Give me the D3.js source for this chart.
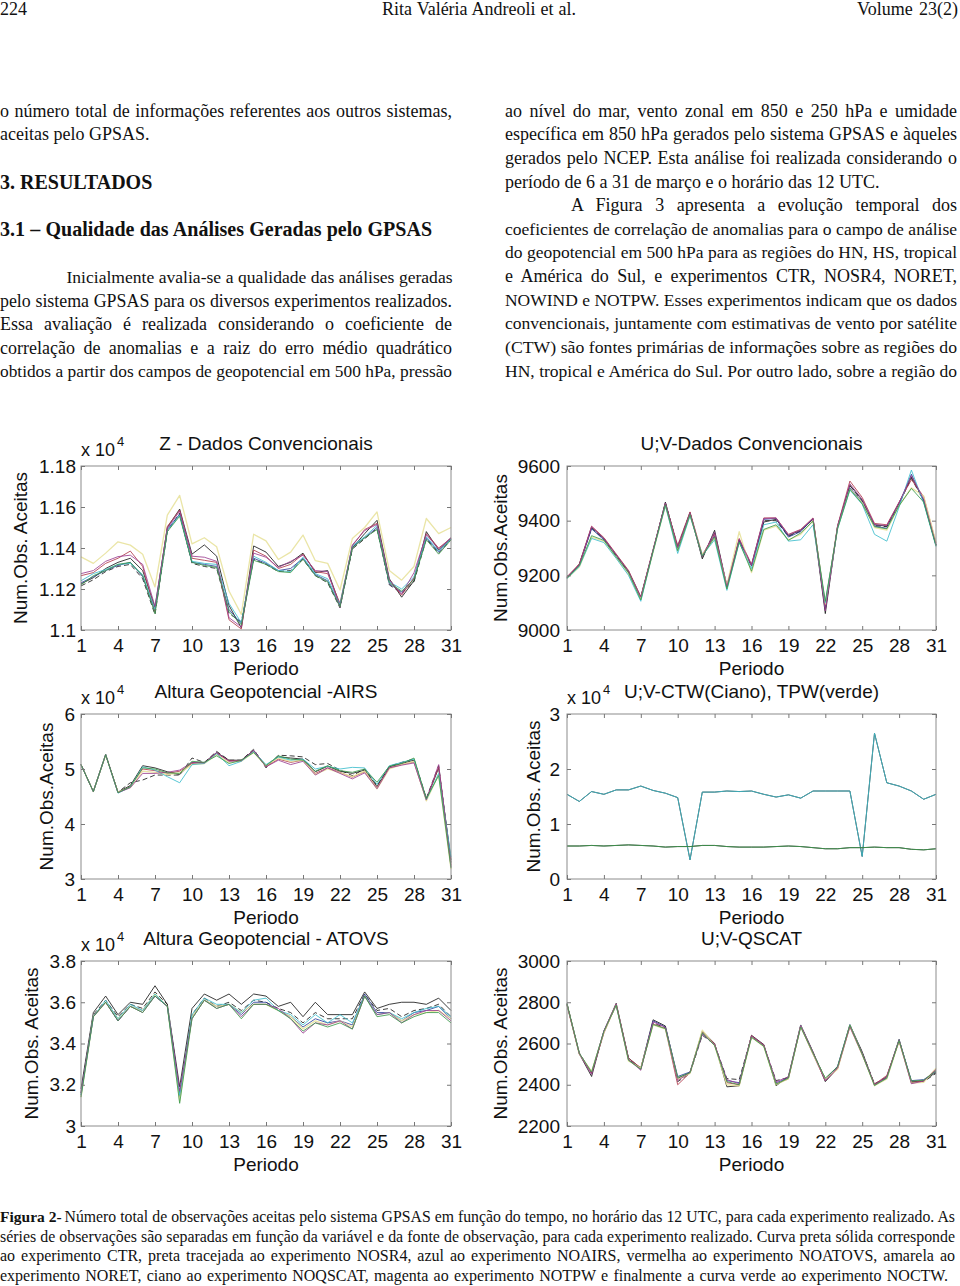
<!DOCTYPE html>
<html>
<head>
<meta charset="utf-8">
<script src="https://cdn.jsdelivr.net/npm/d3@7"></script>
<style>
  body { margin: 0; background: #fff; }
  svg { display: block; }
</style>
</head>
<body>
<div id="page"></div>
<script>
// days of the period (x axis)
var days = [1,2,3,4,5,6,7,8,9,10,11,12,13,14,15,16,17,18,19,20,21,22,23,24,25,26,27,28,29,30,31];
var xTicks = [1,4,7,10,13,16,19,22,25,28,31];

// Z - Dados Convencionais (x 10^4)
var zConvTicks = [1.1, 1.12, 1.14, 1.16, 1.18];
var zConvCTR    = [1.1225,1.1255,1.1300,1.1330,1.1350,1.1290,1.1110,1.1500,1.1590,1.1370,1.1415,1.1360,1.1120,1.1010,1.1410,1.1380,1.1310,1.1330,1.1375,1.1280,1.1290,1.1120,1.1400,1.1470,1.1535,1.1250,1.1160,1.1240,1.1480,1.1390,1.1450];
var zConvNOSR4  = [1.1215,1.1245,1.1285,1.1310,1.1320,1.1250,1.1075,1.1480,1.1570,1.1325,1.1310,1.1300,1.1080,1.1040,1.1345,1.1320,1.1285,1.1290,1.1345,1.1265,1.1230,1.1108,1.1395,1.1445,1.1495,1.1220,1.1180,1.1235,1.1445,1.1375,1.1440];
var zConvNOAIRS = [1.1230,1.1260,1.1290,1.1315,1.1330,1.1260,1.1090,1.1490,1.1565,1.1330,1.1320,1.1310,1.1100,1.1030,1.1350,1.1325,1.1290,1.1300,1.1350,1.1270,1.1240,1.1115,1.1405,1.1450,1.1500,1.1225,1.1185,1.1250,1.1450,1.1380,1.1445];
var zConvNOATOVS= [1.1265,1.1280,1.1325,1.1350,1.1385,1.1310,1.1090,1.1505,1.1585,1.1350,1.1340,1.1330,1.1050,1.1005,1.1390,1.1360,1.1300,1.1320,1.1370,1.1285,1.1275,1.1130,1.1410,1.1490,1.1520,1.1240,1.1170,1.1255,1.1470,1.1400,1.1448];
var zConvNORET  = [1.1357,1.1325,1.1375,1.1430,1.1414,1.1370,1.1210,1.1560,1.1657,1.1420,1.1450,1.1406,1.1190,1.1076,1.1467,1.1435,1.1344,1.1380,1.1463,1.1338,1.1325,1.1195,1.1446,1.1500,1.1576,1.1290,1.1243,1.1310,1.1544,1.1470,1.1500];
var zConvNOQSCAT= [1.1240,1.1275,1.1295,1.1320,1.1325,1.1270,1.1100,1.1485,1.1560,1.1335,1.1325,1.1320,1.1130,1.1035,1.1360,1.1330,1.1290,1.1285,1.1355,1.1275,1.1250,1.1125,1.1410,1.1455,1.1510,1.1235,1.1200,1.1260,1.1455,1.1385,1.1445];
var zConvNOTPW  = [1.1275,1.1290,1.1335,1.1358,1.1365,1.1320,1.1115,1.1495,1.1580,1.1360,1.1355,1.1335,1.1060,1.1015,1.1375,1.1355,1.1305,1.1335,1.1365,1.1290,1.1285,1.1110,1.1415,1.1485,1.1515,1.1245,1.1175,1.1280,1.1465,1.1395,1.1450];
var zConvNOCTW  = [1.1220,1.1265,1.1290,1.1320,1.1330,1.1265,1.1080,1.1480,1.1555,1.1330,1.1315,1.1305,1.1090,1.1025,1.1340,1.1320,1.1285,1.1280,1.1345,1.1265,1.1235,1.1112,1.1400,1.1450,1.1490,1.1230,1.1190,1.1245,1.1440,1.1370,1.1440];

// U;V - Dados Convencionais
var uvConvTicks = [9000, 9200, 9400, 9600];
var uvConvCTR    = [9190,9240,9375,9335,9275,9215,9120,9290,9468,9300,9430,9260,9365,9160,9330,9235,9395,9405,9345,9365,9405,9060,9380,9530,9475,9385,9380,9465,9560,9475,9310];
var uvConvNOSR4  = [9190,9240,9372,9332,9272,9212,9118,9290,9465,9305,9428,9265,9355,9158,9328,9232,9400,9400,9342,9362,9405,9075,9378,9528,9472,9382,9378,9462,9555,9472,9310];
var uvConvNOAIRS = [9192,9238,9370,9330,9268,9208,9115,9292,9460,9295,9425,9270,9345,9155,9325,9238,9405,9408,9340,9360,9408,9085,9375,9520,9468,9380,9372,9458,9570,9470,9312];
var uvConvNOATOVS= [9195,9242,9380,9338,9278,9218,9122,9295,9462,9310,9432,9275,9350,9162,9335,9240,9410,9410,9350,9368,9410,9090,9382,9545,9485,9390,9385,9468,9550,9488,9318];
var uvConvNORET  = [9188,9230,9340,9325,9265,9205,9112,9285,9455,9290,9420,9275,9335,9165,9360,9210,9365,9380,9330,9350,9400,9095,9372,9515,9465,9375,9365,9455,9520,9490,9320];
var uvConvNOQSCAT= [9188,9232,9335,9320,9262,9200,9105,9288,9455,9280,9418,9272,9330,9145,9320,9225,9385,9395,9325,9330,9385,9100,9370,9512,9460,9350,9325,9450,9585,9465,9305];
var uvConvNOTPW  = [9192,9238,9378,9335,9275,9215,9120,9292,9465,9302,9428,9268,9358,9160,9332,9236,9408,9410,9348,9366,9408,9070,9380,9535,9478,9386,9382,9466,9565,9478,9312];
var uvConvNOCTW  = [9190,9235,9345,9328,9268,9210,9110,9288,9458,9290,9422,9270,9340,9150,9322,9215,9368,9385,9328,9355,9398,9105,9372,9515,9462,9378,9370,9455,9518,9468,9308];

// Altura Geopotencial - AIRS (x 10^4), no NOAIRS curve
var airsTicks = [3, 4, 5, 6];
var airsCTR    = [5.08,4.59,5.26,4.58,4.70,5.06,5.02,4.95,4.90,5.12,5.12,5.30,5.16,5.16,5.34,5.05,5.22,5.20,5.18,4.95,5.05,4.96,4.92,4.98,4.68,5.04,5.10,5.16,4.45,5.02,3.35];
var airsNOSR4  = [5.08,4.59,5.26,4.58,4.75,4.80,4.89,4.89,4.89,5.20,5.12,5.32,5.16,5.16,5.36,5.02,5.25,5.24,5.22,5.08,5.10,4.98,4.88,5.00,4.70,5.05,5.12,5.18,4.47,5.06,3.30];
var airsNOATOVS= [5.08,4.59,5.26,4.57,4.68,5.00,4.97,4.92,4.96,5.10,5.11,5.28,5.15,5.15,5.33,5.04,5.18,5.12,5.16,4.92,5.02,4.94,4.85,4.95,4.66,5.02,5.08,5.13,4.43,5.04,3.25];
var airsNORET  = [5.08,4.59,5.25,4.58,4.66,4.96,4.94,4.90,4.93,5.08,5.10,5.26,5.12,5.14,5.30,5.06,5.20,5.14,5.16,4.90,5.00,4.93,4.86,4.96,4.64,5.00,5.08,5.14,4.42,4.90,3.18];
var airsNOQSCAT= [5.08,4.59,5.26,4.56,4.67,5.04,4.98,4.86,4.75,5.08,5.10,5.28,5.06,5.14,5.32,5.08,5.22,5.16,5.18,5.00,5.05,5.00,5.03,5.02,4.72,5.06,5.12,5.18,4.44,4.92,3.40];
var airsNOTPW  = [5.08,4.59,5.26,4.57,4.66,4.92,4.92,4.94,4.98,5.12,5.11,5.30,5.14,5.15,5.34,5.04,5.16,5.08,5.14,4.89,5.02,4.92,4.82,4.93,4.64,5.02,5.07,5.11,4.44,5.08,3.22];
var airsNOCTW  = [5.08,4.59,5.26,4.57,4.68,5.02,5.00,4.93,4.92,5.14,5.12,5.24,5.10,5.16,5.30,5.06,5.24,5.18,5.16,4.96,5.06,4.97,4.94,5.00,4.76,5.05,5.10,5.20,4.46,4.88,3.20];

// U;V - CTW (ciano) and TPW (verde) (x 10^4)
var ctwTicks = [0, 1, 2, 3];
var ctwObs = [1.54,1.41,1.59,1.54,1.62,1.62,1.69,1.61,1.56,1.48,0.35,1.58,1.58,1.60,1.59,1.60,1.54,1.49,1.53,1.47,1.60,1.60,1.60,1.60,0.41,2.65,1.75,1.69,1.60,1.45,1.54];
var tpwObs = [0.60,0.60,0.61,0.60,0.61,0.62,0.61,0.60,0.58,0.59,0.59,0.61,0.61,0.59,0.58,0.58,0.58,0.59,0.60,0.59,0.57,0.55,0.55,0.57,0.57,0.58,0.57,0.57,0.54,0.53,0.55];

// Altura Geopotencial - ATOVS (x 10^4), no NOATOVS curve
var atovsTicks = [3, 3.2, 3.4, 3.6, 3.8];
var atovsCTR    = [3.18,3.55,3.63,3.54,3.60,3.59,3.68,3.59,3.19,3.57,3.64,3.61,3.64,3.59,3.64,3.63,3.58,3.60,3.53,3.60,3.54,3.54,3.54,3.65,3.57,3.59,3.60,3.60,3.59,3.62,3.56];
var atovsNOSR4  = [3.16,3.54,3.61,3.53,3.59,3.57,3.65,3.59,3.16,3.54,3.62,3.58,3.60,3.56,3.61,3.60,3.57,3.55,3.50,3.55,3.52,3.52,3.52,3.64,3.56,3.57,3.53,3.56,3.57,3.59,3.53];
var atovsNOAIRS = [3.15,3.53,3.60,3.51,3.58,3.56,3.63,3.58,3.14,3.53,3.61,3.58,3.59,3.54,3.60,3.60,3.56,3.53,3.48,3.52,3.50,3.51,3.49,3.64,3.55,3.55,3.51,3.55,3.56,3.58,3.52];
var atovsNORET  = [3.14,3.53,3.60,3.52,3.58,3.56,3.64,3.58,3.12,3.53,3.61,3.58,3.59,3.55,3.59,3.59,3.56,3.53,3.47,3.51,3.49,3.51,3.48,3.63,3.54,3.55,3.51,3.54,3.55,3.56,3.52];
var atovsNOQSCAT= [3.15,3.53,3.61,3.52,3.59,3.56,3.64,3.58,3.15,3.54,3.62,3.59,3.59,3.55,3.61,3.62,3.56,3.54,3.49,3.54,3.50,3.54,3.50,3.63,3.54,3.55,3.52,3.55,3.57,3.58,3.53];
var atovsNOTPW  = [3.16,3.53,3.60,3.51,3.58,3.55,3.63,3.58,3.17,3.52,3.61,3.57,3.59,3.53,3.59,3.59,3.57,3.52,3.45,3.50,3.49,3.51,3.47,3.63,3.54,3.55,3.50,3.54,3.56,3.56,3.51];
var atovsNOCTW  = [3.14,3.53,3.60,3.51,3.58,3.55,3.63,3.58,3.11,3.52,3.61,3.57,3.59,3.52,3.59,3.59,3.56,3.52,3.46,3.50,3.48,3.50,3.47,3.63,3.53,3.54,3.50,3.53,3.55,3.55,3.50];

// U;V - QSCAT, no NOQSCAT curve
var qscatTicks = [2200, 2400, 2600, 2800, 3000];
var qscatCTR    = [2790,2550,2440,2660,2795,2530,2480,2715,2685,2430,2460,2660,2600,2390,2395,2640,2595,2395,2440,2690,2560,2415,2480,2690,2560,2400,2440,2620,2410,2420,2460];
var qscatNOSR4  = [2795,2555,2455,2655,2790,2525,2475,2700,2675,2415,2455,2640,2595,2430,2425,2635,2590,2420,2435,2685,2555,2430,2485,2685,2555,2405,2435,2615,2415,2415,2455];
var qscatNOAIRS = [2790,2552,2460,2660,2785,2520,2478,2710,2680,2440,2462,2650,2592,2420,2410,2632,2588,2410,2432,2688,2552,2425,2490,2692,2550,2398,2430,2618,2420,2425,2465];
var qscatNOATOVS= [2785,2550,2458,2650,2790,2528,2482,2695,2672,2400,2458,2655,2598,2410,2400,2638,2592,2405,2428,2682,2548,2420,2478,2680,2545,2402,2445,2610,2412,2418,2470];
var qscatNORET  = [2790,2548,2465,2655,2788,2515,2480,2690,2670,2425,2455,2665,2590,2400,2395,2630,2585,2400,2430,2684,2550,2428,2475,2688,2548,2395,2428,2612,2408,2412,2480];
var qscatNOTPW  = [2788,2550,2450,2662,2792,2522,2470,2705,2678,2420,2460,2645,2595,2425,2405,2636,2592,2415,2438,2686,2558,2420,2482,2684,2552,2400,2438,2616,2405,2418,2475];
var qscatNOCTW  = [2792,2553,2462,2658,2786,2518,2476,2692,2672,2435,2458,2652,2590,2415,2400,2630,2586,2402,2432,2680,2553,2432,2488,2690,2548,2396,2432,2614,2418,2422,2468];

// line style per experiment
var expColor = {
  CTR: "#1c1c1c", NOSR4: "#1c1c1c", NOAIRS: "#2f3f9c", NOATOVS: "#b23c4e",
  NORET: "#e6e096", NOQSCAT: "#3dbdcd", NOTPW: "#9c3f92", NOCTW: "#3d9a4c"
};

var svg = d3.select("#page").append("svg")
  .attr("width", 960)
  .attr("height", 1286);

svg.append("rect").attr("width", 960).attr("height", 1286).attr("fill", "#fff");

var serif = "'Liberation Serif', 'Times New Roman', serif";
var sans = "'Liberation Sans', Arial, Helvetica, sans-serif";

// ---------- page text ----------
// shrink the font when a line is too long, then spread the words to fill the width
function fitText(x, y, str, width, size, bold) {
  var t = svg.append("text")
    .attr("x", x).attr("y", y)
    .attr("font-family", serif)
    .attr("font-size", size)
    .attr("font-weight", bold ? "bold" : "normal")
    .attr("fill", "#111")
    .text(str);
  if (width == null) return t;
  var natural = t.node().getComputedTextLength();
  if (natural > width) {
    t.attr("font-size", size * width / natural * 0.998);
    natural = t.node().getComputedTextLength();
  }
  var spaces = (str.match(/ /g) || []).length;
  if (spaces && width - natural > 0.5) {
    t.style("word-spacing", ((width - natural) / spaces) + "px");
  }
  return t;
}

// running header
fitText(0, 15, "224", 27, 18);
fitText(382, 15, "Rita Valéria Andreoli et al.", 194, 18);
fitText(857, 15, "Volume 23(2)", 101, 18);

var leftLines = [
  ["o número total de informações referentes aos outros sistemas,", 0, 116.5, 452],
  ["aceitas pelo GPSAS.", 0, 140, null],
  ["Inicialmente avalia-se a qualidade das análises geradas", 66.5, 283, 386],
  ["pelo sistema GPSAS para os diversos experimentos realizados.", 0, 306.5, 452],
  ["Essa avaliação é realizada considerando o coeficiente de", 0, 330, 452],
  ["correlação de anomalias e a raiz do erro médio quadrático", 0, 353.5, 452],
  ["obtidos a partir dos campos de geopotencial em 500 hPa, pressão", 0, 377, 452]
];
var rightLines = [
  ["ao nível do mar, vento zonal em 850 e 250 hPa e umidade", 505, 116.5, 452],
  ["específica em 850 hPa gerados pelo sistema GPSAS e àqueles", 505, 140, 452],
  ["gerados pelo NCEP. Esta análise foi realizada considerando o", 505, 164, 452],
  ["período de 6 a 31 de março e o horário das 12 UTC.", 505, 187.5, null],
  ["A Figura 3 apresenta a evolução temporal dos", 571, 211, 386],
  ["coeficientes de correlação de anomalias para o campo de análise", 505, 234.5, 452],
  ["do geopotencial em 500 hPa para as regiões do HN, HS, tropical", 505, 258, 452],
  ["e América do Sul, e experimentos CTR, NOSR4, NORET,", 505, 282, 452],
  ["NOWIND e NOTPW. Esses experimentos indicam que os dados", 505, 305.5, 452],
  ["convencionais, juntamente com estimativas de vento por satélite", 505, 329, 452],
  ["(CTW) são fontes primárias de informações sobre as regiões do", 505, 353, 452],
  ["HN, tropical e América do Sul. Por outro lado, sobre a região do", 505, 376.5, 452]
];
leftLines.concat(rightLines).forEach(function(l) {
  fitText(l[1], l[2], l[0], l[3], 18, false);
});

fitText(0, 189, "3. RESULTADOS", null, 20, true);
fitText(0, 235.5, "3.1 – Qualidade das Análises Geradas pelo GPSAS", 432, 20, true);

// caption
var capHead = fitText(0, 1222, "Figura 2-", null, 15.5, true);
var capX = capHead.node().getComputedTextLength() + 3;
fitText(capX, 1222, "Número total de observações aceitas pelo sistema GPSAS em função do tempo, no horário das 12 UTC, para cada experimento realizado. As", 955 - capX, 16);
fitText(0, 1241.5, "séries de observações são separadas em função da variável e da fonte de observação, para cada experimento realizado. Curva preta sólida corresponde", 955, 16);
fitText(0, 1261, "ao experimento CTR, preta tracejada ao experimento NOSR4, azul ao experimento NOAIRS, vermelha ao experimento NOATOVS, amarela ao", 955, 16);
fitText(0, 1280.5, "experimento NORET, ciano ao experimento NOQSCAT, magenta ao experimento NOTPW e finalmente a curva verde ao experimento NOCTW.", 948, 16);

// ---------- panels ----------
var colL = [81, 451], colR = [567, 936];
var rows = [[466, 630], [714, 879], [961, 1126]];

var panels = [
  { col: colL, row: rows[0], title: "Z - Dados Convencionais", ylabel: "Num.Obs. Aceitas", labelX: 27,
    exp: true, ticks: zConvTicks, pad: 5,
    series: [["CTR", zConvCTR], ["NOSR4", zConvNOSR4], ["NOAIRS", zConvNOAIRS], ["NOATOVS", zConvNOATOVS],
             ["NORET", zConvNORET], ["NOQSCAT", zConvNOQSCAT], ["NOTPW", zConvNOTPW], ["NOCTW", zConvNOCTW]] },
  { col: colR, row: rows[0], title: "U;V-Dados Convencionais", ylabel: "Num.Obs.Aceitas", labelX: 507,
    exp: false, ticks: uvConvTicks, pad: 7,
    series: [["CTR", uvConvCTR], ["NOSR4", uvConvNOSR4], ["NOAIRS", uvConvNOAIRS], ["NOATOVS", uvConvNOATOVS],
             ["NORET", uvConvNORET], ["NOQSCAT", uvConvNOQSCAT], ["NOTPW", uvConvNOTPW], ["NOCTW", uvConvNOCTW]] },
  { col: colL, row: rows[1], title: "Altura Geopotencial -AIRS", ylabel: "Num.Obs.Aceitas", labelX: 53,
    exp: true, ticks: airsTicks, pad: 6,
    series: [["CTR", airsCTR], ["NOSR4", airsNOSR4], ["NOATOVS", airsNOATOVS], ["NORET", airsNORET],
             ["NOQSCAT", airsNOQSCAT], ["NOTPW", airsNOTPW], ["NOCTW", airsNOCTW]] },
  { col: colR, row: rows[1], title: "U;V-CTW(Ciano), TPW(verde)", ylabel: "Num.Obs. Aceitas", labelX: 540,
    exp: true, ticks: ctwTicks, pad: 7,
    series: [["CTR", ctwObs], ["NOQSCAT", ctwObs], ["CTR", tpwObs], ["NOCTW", tpwObs]] },
  { col: colL, row: rows[2], title: "Altura Geopotencial - ATOVS", ylabel: "Num.Obs. Aceitas", labelX: 38,
    exp: true, ticks: atovsTicks, pad: 5,
    series: [["CTR", atovsCTR], ["NOSR4", atovsNOSR4], ["NOAIRS", atovsNOAIRS], ["NORET", atovsNORET],
             ["NOQSCAT", atovsNOQSCAT], ["NOTPW", atovsNOTPW], ["NOCTW", atovsNOCTW]] },
  { col: colR, row: rows[2], title: "U;V-QSCAT", ylabel: "Num.Obs. Aceitas", labelX: 507,
    exp: false, ticks: qscatTicks, pad: 7,
    series: [["CTR", qscatCTR], ["NOSR4", qscatNOSR4], ["NOAIRS", qscatNOAIRS], ["NOATOVS", qscatNOATOVS],
             ["NORET", qscatNORET], ["NOTPW", qscatNOTPW], ["NOCTW", qscatNOCTW]] }
];

panels.forEach(function(p) {
  var left = p.col[0], right = p.col[1], top = p.row[0], bottom = p.row[1];
  var g = svg.append("g");

  var x = d3.scaleLinear().domain([1, 31]).range([left, right]);
  var y = d3.scaleLinear().domain(d3.extent(p.ticks)).range([bottom, top]);

  // lines
  var line = d3.line().x(d => x(d[0])).y(d => y(d[1]));
  p.series.forEach(function(s, i) {
    var pts = days.map((d, k) => [d, s[1][k]]);
    g.append("path")
      .attr("d", line(pts))
      .attr("fill", "none")
      .attr("stroke", expColor[s[0]])
      .attr("stroke-width", s[0] == "NORET" ? 1.3 : 1)
      .attr("stroke-opacity", 0.85)
      .attr("stroke-dasharray", s[0] == "NOSR4" ? "5,3" : null)
      .attr("stroke-linejoin", "round");
  });

  // frame
  g.append("rect")
    .attr("x", left).attr("y", top)
    .attr("width", right - left).attr("height", bottom - top)
    .attr("fill", "none").attr("stroke", "#8c8c8c").attr("stroke-width", 1);

  // axes, ticks pointing inward
  var axes = [
    g.append("g").attr("transform", `translate(0,${bottom})`)
      .call(d3.axisBottom(x).tickValues(xTicks).tickSize(-4).tickPadding(9)),
    g.append("g").attr("transform", `translate(0,${top})`)
      .call(d3.axisTop(x).tickValues(xTicks).tickSize(-4).tickFormat("")),
    g.append("g").attr("transform", `translate(${left},0)`)
      .call(d3.axisLeft(y).tickValues(p.ticks).tickSize(-4).tickPadding(p.pad).tickFormat(d => String(+d.toFixed(2)))),
    g.append("g").attr("transform", `translate(${right},0)`)
      .call(d3.axisRight(y).tickValues(p.ticks).tickSize(-4).tickFormat(""))
  ];
  axes.forEach(function(a) {
    a.select(".domain").remove();
    a.selectAll(".tick line").attr("stroke", "#777");
    a.selectAll("text")
      .attr("font-family", sans)
      .attr("font-size", 19)
      .attr("fill", "#111");
  });

  // title
  g.append("text")
    .attr("x", (left + right) / 2).attr("y", top - 16)
    .attr("text-anchor", "middle")
    .attr("font-family", sans).attr("font-size", 19).attr("fill", "#111")
    .text(p.title);

  // multiplier
  if (p.exp) {
    var m = g.append("text")
      .attr("x", left).attr("y", top - 10)
      .attr("font-family", sans).attr("font-size", 18).attr("fill", "#111");
    m.append("tspan").text("x 10");
    m.append("tspan").attr("font-size", 13).attr("dy", -10).attr("dx", 2).text("4");
  }

  // x label
  g.append("text")
    .attr("x", (left + right) / 2).attr("y", bottom + 45)
    .attr("text-anchor", "middle")
    .attr("font-family", sans).attr("font-size", 19).attr("fill", "#111")
    .text("Periodo");

  // y label
  g.append("text")
    .attr("transform", `translate(${p.labelX},${(top + bottom) / 2}) rotate(-90)`)
    .attr("text-anchor", "middle")
    .attr("font-family", sans).attr("font-size", 19).attr("fill", "#111")
    .text(p.ylabel);
});
</script>
</body>
</html>
